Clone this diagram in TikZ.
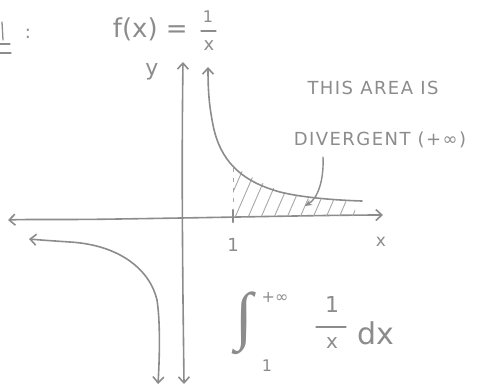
\documentclass[tikz,border=0pt]{standalone}
\usepackage{fontspec}
\setmainfont{DejaVu Sans}
\newfontfamily\intfont{Liberation Serif}
\usetikzlibrary{arrows.meta}
\definecolor{pencil}{HTML}{8C8C8C}
\definecolor{pencillight}{HTML}{A8A8A8}
\tikzset{
  pen/.style={draw=pencil, line width=1.6pt, line cap=round, line join=round},
  arr/.style={-{Straight Barb[length=6pt,width=11pt,line width=1.6pt]}},
  hatch/.style={draw=pencillight, line width=0.9pt},
  hand/.style={text=pencil, inner sep=0pt},
  caps/.style={hand, font=\fontsize{18}{18}\selectfont\addfontfeature{LetterSpace=8}},
}
\begin{document}
\begin{tikzpicture}[x=1pt,y=-1pt]
\useasboundingbox (0,0) rectangle (478,389);
% top-left cut-off mark
\draw[pen,line width=1.3pt] (2,22) -- (3,40);
\draw[pen,line width=1.3pt] (0,44) -- (10,44);
\draw[pen,line width=1.3pt] (0,53) -- (11,53);
\node[hand,font=\fontsize{18}{18}\selectfont] (colon) at (28,34) {:};
% title
\node[hand,font=\fontsize{26}{26}\selectfont,anchor=east] (fx) at (188,29) {f(x) =};
\node[hand,font=\fontsize{16}{16}\selectfont] (num) at (208,17) {1};
\draw[pen,line width=1.2pt] (201,31) -- (216,31);
\node[hand,font=\fontsize{18}{18}\selectfont] (den) at (209,46) {x};
% axes
\coordinate (xl) at (8,220);
\coordinate (xr) at (383,215);
\coordinate (yt) at (183,62);
\coordinate (yb) at (184,384);
\draw[pen,arr] (118,219) .. controls (60,220) and (30,219) .. (xl);
\draw[pen,arr] (118,219) .. controls (250,217) and (330,215) .. (xr);
\draw[pen,arr] (183,300) .. controls (182,200) and (182,130) .. (yt);
\draw[pen,arr] (183,300) -- (yb);
\node[hand,font=\fontsize{22}{22}\selectfont] (ylab) at (152,72) {y};
\node[hand,font=\fontsize{17}{17}\selectfont] (xlab) at (381,242) {x};
% tick at 1
\coordinate (t1) at (233,215);
\draw[pen,line width=2.4pt] (233,210) -- (233,222);
\node[hand,font=\fontsize{18}{18}\selectfont] (one) at (233,245) {1};
% hatched region
\begin{scope}
\clip (233,216) -- (233,164) .. controls (255,182) and (280,192) .. (305,198) -- (355,202) -- (355,216) -- cycle;
\foreach \i in {0,...,11} {
  \draw[hatch] (220+\i*13,222) -- (247+\i*13,160);
}
\end{scope}
\draw[pencillight,line width=1pt,dash pattern=on 4pt off 6pt] (233,168) -- (233,208);
% upper branch
\draw[pen,arr] (362,201) .. controls (330,200) and (300,197) .. (280,192)
  .. controls (240,181) and (220,160) .. (213,125) .. controls (209,105) and (208,90) .. (208,67);
% lower branch
\draw[pen,arr] (157,300) .. controls (150,270) and (120,245) .. (70,242) .. controls (55,241) and (40,240) .. (29,239);
\draw[pen,arr] (157,300) .. controls (160,320) and (160,350) .. (158,384);
% annotation
\node[caps] (t1txt) at (373,88) {THIS AREA IS};
\node[caps] (t2txt) at (380,140) {DIVERGENT (+∞)};
\coordinate (pt) at (305,206);
\draw[pen,line width=1.4pt,-{Stealth[length=7pt,width=6pt]}] (323,157) .. controls (324,180) and (318,198) .. (pt);
% integral
\node[hand,font=\intfont\fontsize{64}{64}\selectfont] (int) at (244,323) {∫};
\node[hand,font=\fontsize{16}{16}\selectfont] (up) at (275,297) {+∞};
\node[hand,font=\fontsize{16}{16}\selectfont] (low) at (267,366) {1};
\node[hand,font=\fontsize{22}{22}\selectfont] (fn) at (332,304) {1};
\draw[pen,line width=1.2pt] (316,327) -- (346,327);
\node[hand,font=\fontsize{20}{20}\selectfont] (fd) at (332,343) {x};
\node[hand,font=\fontsize{30}{30}\selectfont] (dx) at (376,333) {dx};
\end{tikzpicture}
\end{document}
